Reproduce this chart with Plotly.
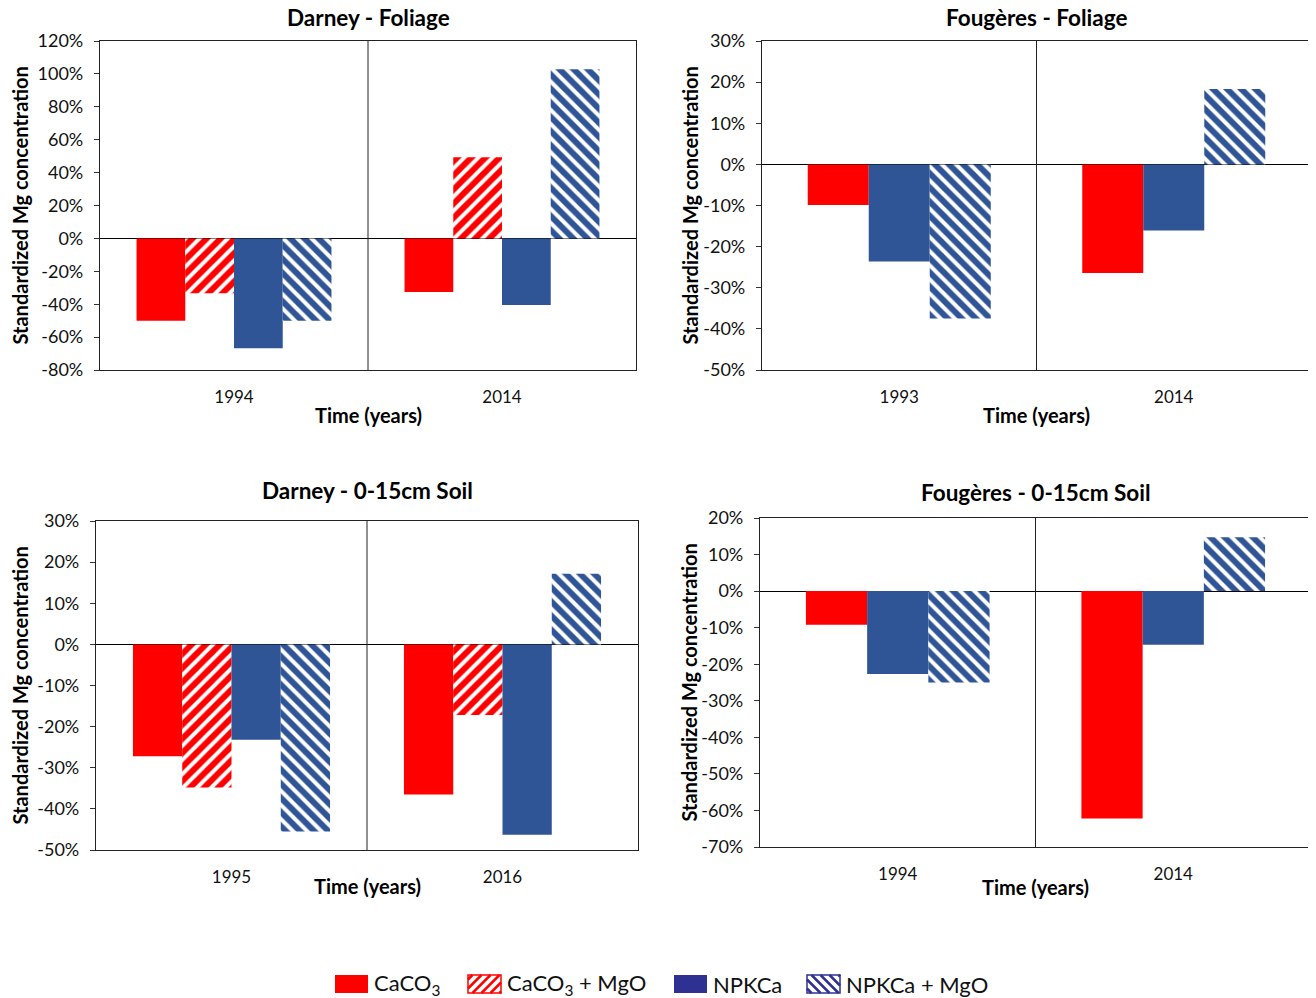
import plotly.graph_objects as go

# ---------------- data ----------------
series_names = ["CaCO<sub>3</sub>", "CaCO<sub>3</sub> + MgO", "NPKCa", "NPKCa + MgO"]

# Darney - Foliage
darney_fol_years = ["1994", "2014"]
darney_fol_caco3 = [-50.0, -32.6]
darney_fol_caco3_mgo = [-33.4, 49.4]
darney_fol_npkca = [-66.8, -40.5]
darney_fol_npkca_mgo = [-50.0, 102.8]

# Fougeres - Foliage (no CaCO3 + MgO treatment)
fougeres_fol_years = ["1993", "2014"]
fougeres_fol_caco3 = [-9.9, -26.4]
fougeres_fol_npkca = [-23.6, -16.1]
fougeres_fol_npkca_mgo = [-37.5, 18.3]

# Darney - 0-15cm Soil
darney_soil_years = ["1995", "2016"]
darney_soil_caco3 = [-27.2, -36.5]
darney_soil_caco3_mgo = [-34.8, -17.2]
darney_soil_npkca = [-23.2, -46.3]
darney_soil_npkca_mgo = [-45.5, 17.2]

# Fougeres - 0-15cm Soil (no CaCO3 + MgO treatment)
fougeres_soil_years = ["1994", "2014"]
fougeres_soil_caco3 = [-9.2, -62.2]
fougeres_soil_npkca = [-22.7, -14.7]
fougeres_soil_npkca_mgo = [-25.0, 14.7]

ticks_darney_fol = [120, 100, 80, 60, 40, 20, 0, -20, -40, -60, -80]
ticks_fougeres_fol = [30, 20, 10, 0, -10, -20, -30, -40, -50]
ticks_darney_soil = [30, 20, 10, 0, -10, -20, -30, -40, -50]
ticks_fougeres_soil = [20, 10, 0, -10, -20, -30, -40, -50, -60, -70]

panel_titles = ["Darney - Foliage", "Fougères - Foliage",
                "Darney - 0-15cm Soil", "Fougères - 0-15cm Soil"]
y_title = "Standardized Mg concentration"
x_title = "Time (years)"

# ---------------- styles ----------------
RED = "#FF0000"
BLUE = "#2F5597"
NAVY = "#2E3192"
FONT = "Lato"
OFF = 8                      # browser body margin
W_FIG, H_FIG = 1316 - OFF, 998 - OFF

styles = {
    0: dict(color=RED, pattern=None),
    1: dict(color=RED, pattern="/"),
    2: dict(color=BLUE, pattern=None),
    3: dict(color=BLUE, pattern="\\"),
}


def px_x(p):
    return (p - OFF) / W_FIG


def px_y(p):
    return 1 - (p - OFF) / H_FIG


# pixel boxes of plot areas (window pixels): (left, right, top, bottom)
boxes = [
    (100, 636, 41, 370),
    (762, 1311, 41, 370),
    (96, 638, 521, 850),
    (760, 1311, 518, 847),
]

panels = [
    (darney_fol_years, {0: darney_fol_caco3, 1: darney_fol_caco3_mgo, 2: darney_fol_npkca, 3: darney_fol_npkca_mgo}, ticks_darney_fol),
    (fougeres_fol_years, {0: fougeres_fol_caco3, 2: fougeres_fol_npkca, 3: fougeres_fol_npkca_mgo}, ticks_fougeres_fol),
    (darney_soil_years, {0: darney_soil_caco3, 1: darney_soil_caco3_mgo, 2: darney_soil_npkca, 3: darney_soil_npkca_mgo}, ticks_darney_soil),
    (fougeres_soil_years, {0: fougeres_soil_caco3, 2: fougeres_soil_npkca, 3: fougeres_soil_npkca_mgo}, ticks_fougeres_soil),
]

fig = go.Figure()
annotations = []
shapes = []

for k, (years, data, ticks) in enumerate(panels):
    xa = "x" if k == 0 else f"x{k+1}"
    ya = "y" if k == 0 else f"y{k+1}"
    n = len(data)
    w = 1.0 / (n + 1.5)  # Excel-style gap of 150% of bar width
    for i, (sidx, vals) in enumerate(data.items()):
        st = styles[sidx]
        marker = dict(color=st["color"], line=dict(width=0))
        if st["pattern"]:
            marker["pattern"] = dict(shape=st["pattern"], bgcolor=st["color"],
                                     fgcolor="white", size=10, solidity=0.4,
                                     fillmode="replace")
        fig.add_trace(go.Bar(
            x=years, y=[v / 100 for v in vals], name=series_names[sidx],
            marker=marker, width=w, offset=-n * w / 2 + i * w,
            xaxis=xa, yaxis=ya, showlegend=False,
        ))

    l, r, t, b = boxes[k]
    axis_common = dict(showline=True, linecolor="#222222", linewidth=1.2, mirror=True)
    fig.update_layout(**{
        ("xaxis" if k == 0 else f"xaxis{k+1}"): dict(
            domain=[px_x(l), px_x(r)], anchor=ya, type="category",
            range=[-0.5, 1.5], showgrid=False, ticks="", zeroline=False,
            tickfont=dict(family=FONT, size=17, color="#111111"),
            ticklabelstandoff=11, automargin=False, fixedrange=True,
            **axis_common),
        ("yaxis" if k == 0 else f"yaxis{k+1}"): dict(
            domain=[px_y(b), px_y(t)], anchor=xa,
            range=[min(ticks) / 100, max(ticks) / 100],
            tickvals=[v / 100 for v in ticks], ticktext=[f"{v}%" for v in ticks],
            showgrid=False, zeroline=True, zerolinecolor="#000000", zerolinewidth=1.2,
            ticks="outside", ticklen=5, tickcolor="#333333",
            tickfont=dict(family=FONT, size=18, color="#111111"),
            ticklabelstandoff=7, automargin=False, fixedrange=True,
            **axis_common),
    })

    # category divider
    shapes.append(dict(type="line", xref=xa, yref=f"{ya} domain", x0=0.5, x1=0.5,
                       y0=0.0, y1=1.0, line=dict(color="#222222", width=1)))

    cx = (l + r) / 2
    title_y = [18, 18, 491, 492][k]
    annotations.append(dict(text=f"<b>{panel_titles[k]}</b>", x=px_x(cx), y=px_y(title_y),
                            xref="paper", yref="paper", showarrow=False,
                            xanchor="center", yanchor="middle",
                            font=dict(family=FONT, size=22.5, color="#000000")))
    xt_y = [415, 415, 886, 887][k]
    annotations.append(dict(text=f"<b>{x_title}</b>", x=px_x(cx), y=px_y(xt_y),
                            xref="paper", yref="paper", showarrow=False,
                            xanchor="center", yanchor="middle",
                            font=dict(family=FONT, size=20, color="#000000")))
    yt_x = [19, 689, 19, 688][k]
    annotations.append(dict(text=f"<b>{y_title}</b>", x=px_x(yt_x), y=px_y((t + b) / 2),
                            xref="paper", yref="paper", showarrow=False, textangle=-90,
                            xanchor="center", yanchor="middle",
                            font=dict(family=FONT, size=20, color="#000000")))

# ---------------- custom legend (swatches drawn as shapes) ----------------
legend_items = [
    # (swatch left, text left, fill color, hatch kind, line color)
    (335, 372, RED, None, RED),
    (468, 505, None, "/", RED),
    (674, 711, NAVY, None, NAVY),
    (807, 844, None, "\\", NAVY),
]
SW_W, SW_H, LEG_Y = 33, 18, 984


def hatch_segments(x0, y0, x1, y1, kind, step):
    segs = []
    if kind == "/":
        c = x0 + y0 + step / 2
        while c < x1 + y1:
            xa_ = max(x0, c - y1)
            xb_ = min(x1, c - y0)
            if xb_ > xa_:
                segs.append((xa_, c - xa_, xb_, c - xb_))
            c += step
    else:
        c = x0 - y1 + step / 2
        while c < x1 - y0:
            xa_ = max(x0, c + y0)
            xb_ = min(x1, c + y1)
            if xb_ > xa_:
                segs.append((xa_, xa_ - c, xb_, xb_ - c))
            c += step
    return segs


for (sx, tx, fill, kind, lc), name in zip(legend_items, series_names):
    x0, x1 = sx, sx + SW_W
    y0, y1 = LEG_Y - SW_H / 2, LEG_Y + SW_H / 2
    if kind is None:
        shapes.append(dict(type="rect", xref="paper", yref="paper",
                           x0=px_x(x0), x1=px_x(x1), y0=px_y(y1), y1=px_y(y0),
                           fillcolor=fill, line=dict(width=0)))
    else:
        shapes.append(dict(type="rect", xref="paper", yref="paper",
                           x0=px_x(x0), x1=px_x(x1), y0=px_y(y1), y1=px_y(y0),
                           fillcolor="white", line=dict(width=1.5, color=lc)))
        for (ax, ay, bx, by) in hatch_segments(x0, y0, x1, y1, kind, 9):
            shapes.append(dict(type="line", xref="paper", yref="paper",
                               x0=px_x(ax), y0=px_y(ay), x1=px_x(bx), y1=px_y(by),
                               line=dict(width=2.5, color=lc)))
    annotations.append(dict(text=name, x=px_x(tx), y=px_y(LEG_Y), xref="paper", yref="paper",
                            showarrow=False, xanchor="left", yanchor="middle",
                            font=dict(family=FONT, size=22, color="#111111")))

fig.update_layout(
    width=W_FIG, height=H_FIG,
    margin=dict(l=0, r=0, t=0, b=0),
    paper_bgcolor="white", plot_bgcolor="white",
    barmode="overlay", showlegend=False,
    font=dict(family=FONT, color="#111111"),
    annotations=annotations, shapes=shapes,
)

fig.write_html("out.html")
